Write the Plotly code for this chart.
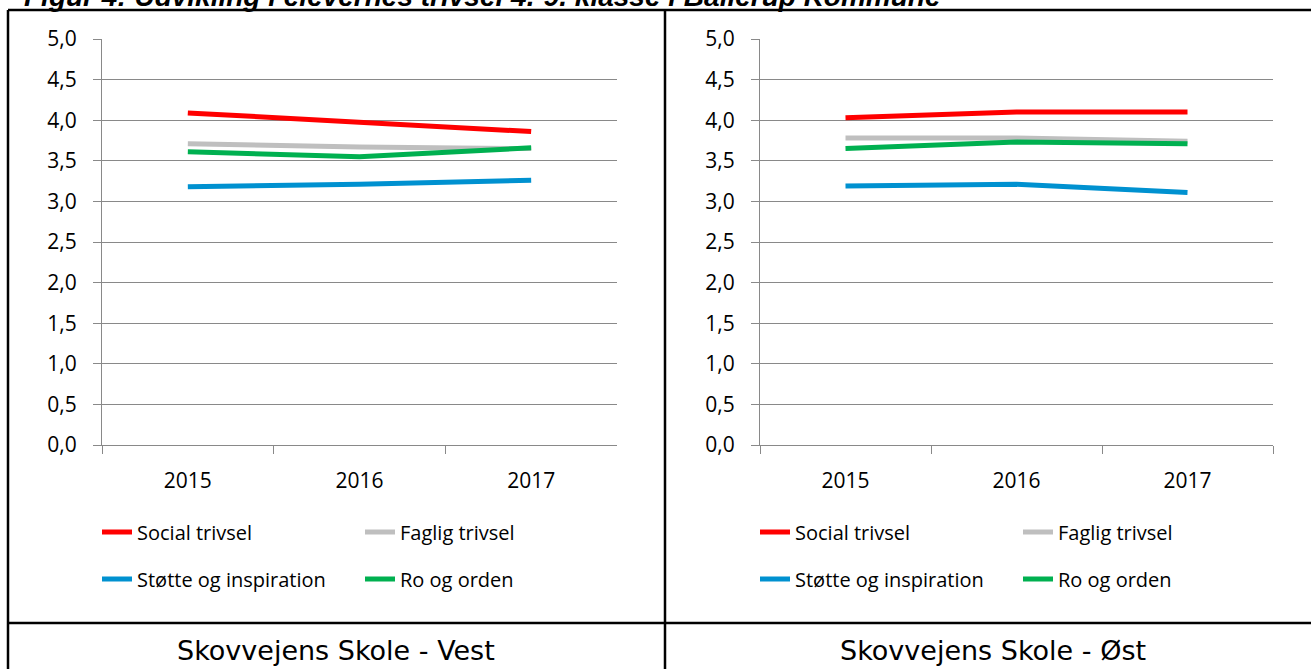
import plotly.graph_objects as go

W, H = 1311, 669

years = ["2015", "2016", "2017"]
series_names = ["Social trivsel", "Faglig trivsel", "Støtte og inspiration", "Ro og orden"]
series_colors = ["#FF0000", "#BFBFBF", "#0091D0", "#00B050"]

vest_social = [4.09, 3.97, 3.86]
vest_faglig = [3.71, 3.67, 3.65]
vest_stotte = [3.18, 3.21, 3.26]
vest_ro = [3.61, 3.55, 3.66]

ost_social = [4.03, 4.10, 4.10]
ost_faglig = [3.78, 3.78, 3.74]
ost_stotte = [3.19, 3.21, 3.11]
ost_ro = [3.65, 3.73, 3.71]

y_ticks = [0.0, 0.5, 1.0, 1.5, 2.0, 2.5, 3.0, 3.5, 4.0, 4.5, 5.0]
panel_titles = ["Skovvejens Skole - Vest", "Skovvejens Skole - Øst"]
fig_title = "Figur 4: Udvikling i elevernes trivsel 4.-9. klasse i Ballerup Kommune"

TICK_FONT = dict(family="Open Sans", size=21, color="#000000")
GRID = "#898989"

fig = go.Figure()

vest = [vest_social, vest_faglig, vest_stotte, vest_ro]
ost = [ost_social, ost_faglig, ost_stotte, ost_ro]
legends_vest = ["legend", "legend", "legend2", "legend2"]
legends_ost = ["legend3", "legend3", "legend4", "legend4"]

for i, name in enumerate(series_names):
    fig.add_trace(go.Scatter(x=years, y=vest[i], name=name, mode="lines",
                             line=dict(color=series_colors[i], width=5),
                             xaxis="x", yaxis="y", legend=legends_vest[i]))
for i, name in enumerate(series_names):
    fig.add_trace(go.Scatter(x=years, y=ost[i], name=name, mode="lines",
                             line=dict(color=series_colors[i], width=5),
                             xaxis="x2", yaxis="y2", legend=legends_ost[i]))

ydom = [1 - 445 / H, 1 - 39 / H]

def xaxis(dom, anchor):
    return dict(domain=dom, anchor=anchor, type="category", range=[-0.5, 2.5],
                tickson="boundaries", ticks="outside", ticklen=8, tickcolor=GRID,
                tickwidth=1.3, showline=True, linecolor=GRID, linewidth=1.3,
                showgrid=False, tickfont=TICK_FONT, ticklabelstandoff=17,
                zeroline=False, automargin=False)

def yaxis(anchor):
    return dict(domain=ydom, anchor=anchor, range=[0, 5], tickvals=y_ticks,
                tickformat=".1f", ticks="outside", ticklen=8, tickcolor=GRID,
                tickwidth=1.3, showline=True, linecolor=GRID, linewidth=1.3,
                showgrid=True, gridcolor=GRID, gridwidth=1.3, zeroline=False,
                tickfont=TICK_FONT, ticklabelstandoff=12, automargin=False)

def legend(x_px, y_px):
    return dict(orientation="h", x=x_px / W, xanchor="left", y=1 - y_px / H,
                yanchor="middle", entrywidth=218, entrywidthmode="pixels",
                font=dict(family="Open Sans", size=20, color="#000000"),
                bgcolor="rgba(0,0,0,0)", borderwidth=0, itemclick=False)

fig.update_layout(
    width=W, height=H,
    margin=dict(l=0, r=0, t=0, b=0, pad=0, autoexpand=False),
    paper_bgcolor="white", plot_bgcolor="white",
    separators=",.",
    showlegend=True,
    hovermode=False,
    xaxis=xaxis([102 / W, 617 / W], "y"),
    yaxis=yaxis("x"),
    xaxis2=xaxis([760 / W, 1273 / W], "y2"),
    yaxis2=yaxis("x2"),
    legend=legend(97, 532),
    legend2=legend(97, 579),
    legend3=legend(755, 532),
    legend4=legend(755, 579),
)

# table borders
line_style = dict(color="#000000", width=2.5)
fig.add_shape(type="line", xref="paper", yref="paper", x0=8 / W, x1=1, y0=1 - 10 / H, y1=1 - 10 / H, line=line_style)
fig.add_shape(type="line", xref="paper", yref="paper", x0=8 / W, x1=8 / W, y0=0, y1=1 - 10 / H, line=line_style)
fig.add_shape(type="line", xref="paper", yref="paper", x0=665 / W, x1=665 / W, y0=0, y1=1 - 10 / H, line=line_style)
fig.add_shape(type="line", xref="paper", yref="paper", x0=8 / W, x1=1, y0=1 - 623 / H, y1=1 - 623 / H, line=line_style)

# panel captions
for cx, t in zip([336, 993], panel_titles):
    fig.add_annotation(text=t, xref="paper", yref="paper", x=cx / W, y=1 - 650 / H,
                       xanchor="center", yanchor="middle", showarrow=False,
                       font=dict(family="DejaVu Sans", size=27, color="#000000"))

# figure title, cut off at the top edge as in the reference
fig.add_annotation(text="<b><i>" + fig_title + "</i></b>", xref="paper", yref="paper",
                   x=22 / W, y=1 - 14 / H, xanchor="left", yanchor="bottom", showarrow=False,
                   font=dict(family="Liberation Sans", size=28, color="#000000"))

fig.write_html("out.html",
               config={"displayModeBar": False},
               post_script="document.body.style.margin='0';document.body.style.overflow='hidden';")
